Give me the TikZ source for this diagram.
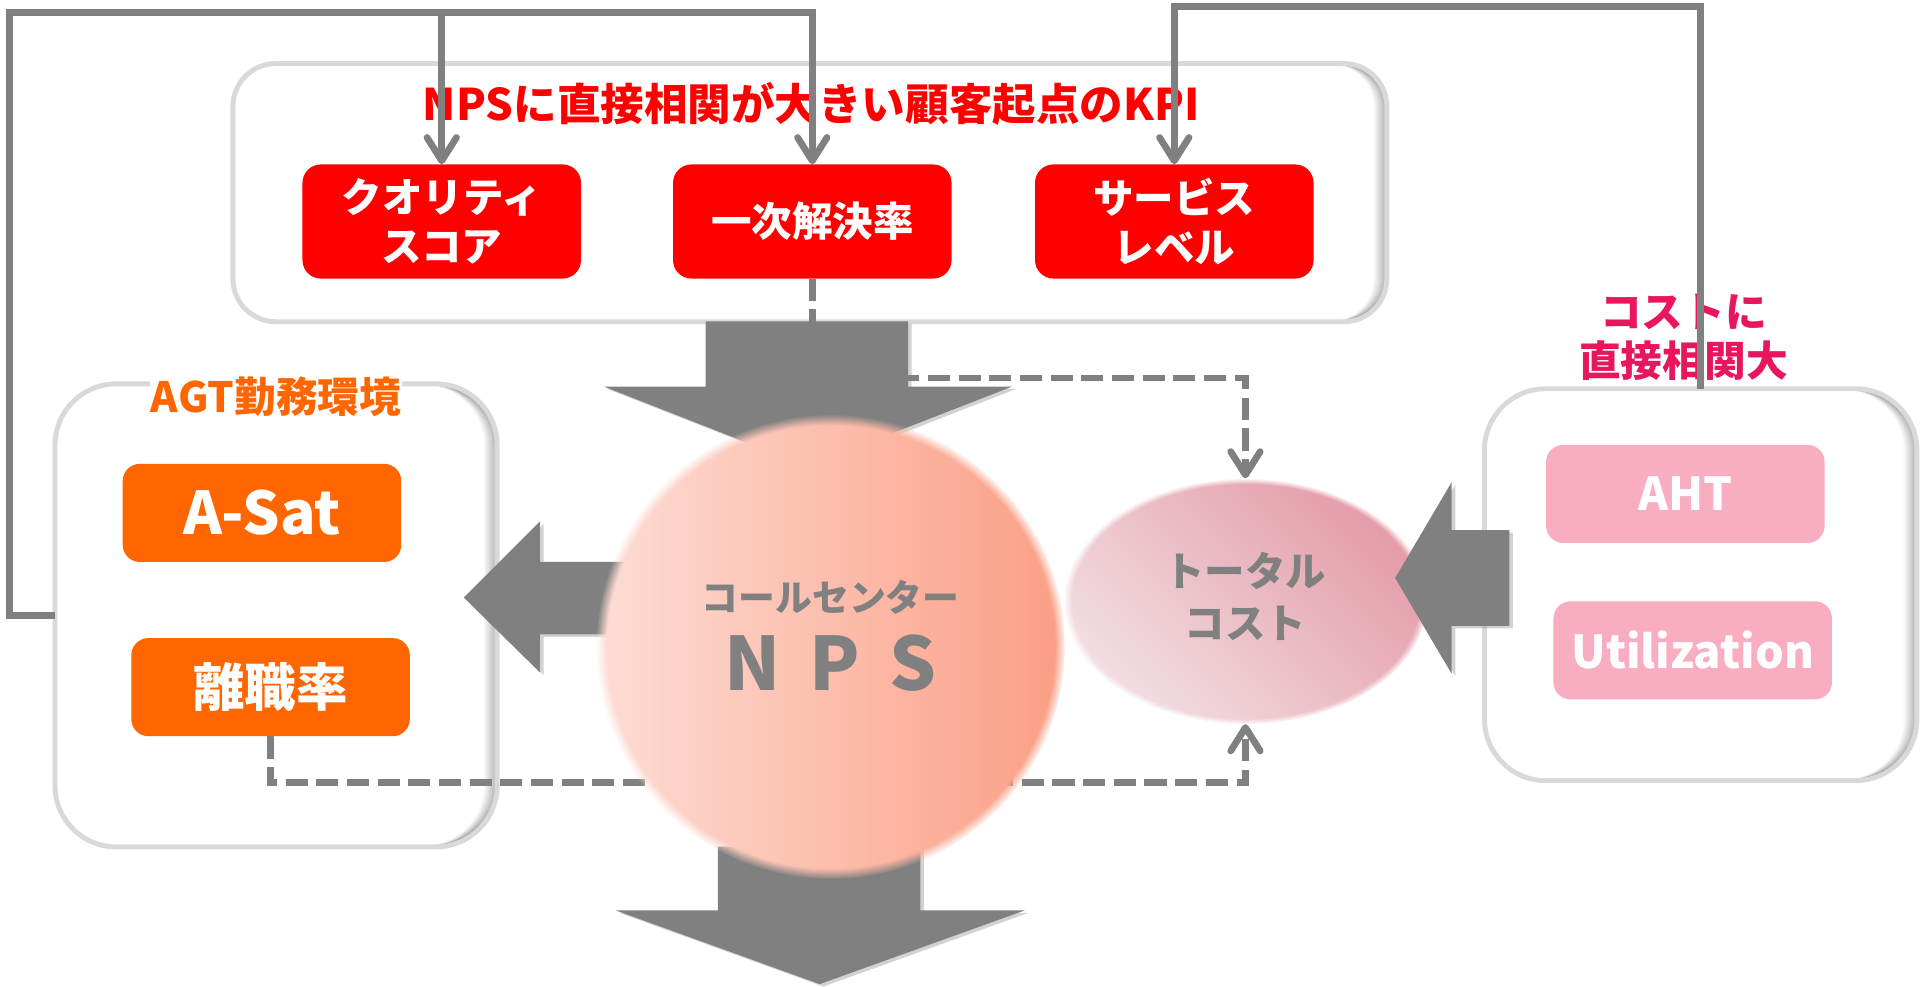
\documentclass[tikz,border=0pt]{standalone}
\usepackage{fontspec}
\setmainfont{Noto Sans CJK JP}
\usetikzlibrary{arrows.meta,fadings,shadows,shapes.geometric,calc}
\definecolor{kred}{HTML}{FF0000}
\definecolor{korange}{HTML}{FF6600}
\definecolor{kpink}{HTML}{F8ADC1}
\definecolor{kcrimson}{HTML}{E8175D}
\definecolor{kgray}{HTML}{808080}
\definecolor{kborder}{HTML}{D9D9D9}
\definecolor{npsL}{HTML}{FDDDD5}
\definecolor{npsR}{HTML}{FB9E84}
\definecolor{tcD}{HTML}{E49CA8}
\definecolor{tcL}{HTML}{F2DEE3}
\pgfdeclareradialshading{kfuzzsh}{\pgfpointorigin}{color(0bp)=(pgftransparent!0); color(23.8bp)=(pgftransparent!0); color(25bp)=(pgftransparent!100); color(50bp)=(pgftransparent!100)}
\pgfdeclarefading{kfuzz}{\pgfuseshading{kfuzzsh}}
\newcommand\fsz[2]{\fontsize{#1}{#2}\selectfont}
\newcommand\ishadow[2]{%
  \begin{scope}
    \clip[rounded corners=#2] (#1.south west) rectangle (#1.north east);
    \foreach \s in {1,...,10}{
      \pgfmathsetmacro\kop{0.15*(11-\s)/10}
      \draw[black, opacity=\kop, line width=2pt, rounded corners=#2]
        ($(#1.south west)+(-\s,0)$) rectangle ($(#1.north east)+(-\s,0)$);
    }
  \end{scope}
  \draw[kborder, line width=4pt, rounded corners=#2] (#1.south west) rectangle (#1.north east);
}
\begin{document}
\begin{tikzpicture}[x=1pt,y=-1pt,
  container/.style={fill=white, rounded corners=#1, inner sep=0pt},
  kpibx/.style={fill=kred, rounded corners=15pt, minimum width=227pt, minimum height=93pt,
    inner sep=0pt, text=white, font=\bfseries\fsz{33}{40}, align=center},
  agtbx/.style={fill=korange, rounded corners=14pt, minimum width=227pt, minimum height=80pt,
    inner sep=0pt, text=white, align=center},
  costbx/.style={fill=kpink, rounded corners=14pt, minimum width=227pt, minimum height=80pt,
    inner sep=0pt, text=white, font=\bfseries\fsz{37}{44}},
  bigarrow/.style={fill=kgray, drop shadow={shadow xshift=3pt, shadow yshift=-2pt, opacity=0.35}},
  dconn/.style={draw=kgray, line width=5.5pt, dash pattern=on 18pt off 7pt,
    -{Straight Barb[length=19pt,width=24pt,round]}},
  sconn/.style={draw=kgray, line width=5.5pt, line join=miter,
    -{Straight Barb[length=19pt,width=24pt,round]}},
  lbl/.style={font=\bfseries\fsz{34}{40}, align=center, inner sep=1pt}
]
\useasboundingbox (0,0) rectangle (1568,804);
\fill[white] (0,0) rectangle (1568,804);

% containers
\node[container=35pt, minimum width=940pt, minimum height=210pt] (kpibox) at (660,157) {};
\ishadow{kpibox}{35pt}
\node[container=50pt, minimum width=360pt, minimum height=377pt] (agtbox) at (225,501.5) {};
\ishadow{agtbox}{50pt}
\node[container=50pt, minimum width=352pt, minimum height=319pt] (costbox) at (1386,476.5) {};
\ishadow{costbox}{50pt}

% KPI boxes
\node[kpibx] (qs) at (360,180.5) {クオリティ\\スコア};
\node[kpibx] (fcr) at (662,180.5) {一次解決率};
\node[kpibx] (sl) at (957,180.5) {サービス\\レベル};

% AGT boxes
\node[agtbx, font=\bfseries\fsz{48}{56}] (asat) at (213.5,418) {A-Sat};
\node[agtbx, font=\bfseries\fsz{42}{50}] (rishoku) at (220.5,560) {離職率};

% cost boxes
\node[costbx] (aht) at (1373.5,402.5) {AHT};
\node[costbx] (util) at (1379.5,530) {Utilization};

% total cost ellipse
\node[ellipse, minimum width=296pt, minimum height=200pt, inner sep=0pt,
  top color=tcD, bottom color=tcL, shading angle=-45,
  path fading=kfuzz] (tc) at (1015,490) {};
\node[text=kgray, font=\bfseries\fsz{33}{42}, align=center] (tct) at (1015,486) {トータル\\コスト};

% dashed connectors
\coordinate (d1) at (662,308);
\coordinate (d2) at (1015,308);
\coordinate (d3) at (220.5,638);
\coordinate (d4) at (1015,638);
\draw[dconn] (fcr.south) -- (d1) -- (d2) -- (tc.north);
\draw[dconn] (rishoku.south) -- (d3) -- (d4) -- (tc.south);

% big arrows
\path[bigarrow] (575,262) -- (740,262) -- (740,315) -- (825,315) -- (658,380) -- (492,315) -- (575,315) -- cycle;
\path[bigarrow] (520,458) -- (440,458) -- (440,425) -- (378,487) -- (440,548) -- (440,517) -- (520,517) -- cycle;
\path[bigarrow] (585,690) -- (750,690) -- (750,742) -- (835,742) -- (668,802) -- (502,742) -- (585,742) -- cycle;

% NPS ellipse
\node[ellipse, minimum width=382pt, minimum height=378pt, inner sep=0pt,
  left color=npsL, right color=npsR,
  path fading=kfuzz] (nps) at (677,527) {};
\node[text=kgray, font=\bfseries\fsz{30}{36}] (npsa) at (677,487) {コールセンター};
\node[text=kgray, font=\bfseries\fsz{60}{70}] (npsb) at (677,540) {N\hspace{0.4em}P\hspace{0.4em}S};

% right arrow
\path[bigarrow] (1230,432) -- (1183,432) -- (1183,393) -- (1137,471) -- (1183,549) -- (1183,510) -- (1230,510) -- cycle;

% labels
\node[lbl, text=kred, font=\bfseries\fsz{35.5}{42}] (title) at (661,85) {NPSに直接相関が大きい顧客起点のKPI};
\node[lbl, text=korange, fill=white] (agtlbl) at (225,323) {AGT勤務環境};
\node[lbl, text=kcrimson] (costlbl) at (1372,275) {コストに\\直接相関大};

% loop connectors
\coordinate (l1) at (8,501.5);
\coordinate (l2) at (8,10);
\coordinate (l3) at (662,10);
\coordinate (l4) at (360,10);
\coordinate (r1) at (1386,5);
\coordinate (r2) at (957,5);
\draw[sconn] (agtbox.west) -- (l1) -- (l2) -- (l3) -- (fcr.north);
\draw[sconn] (l4) -- (qs.north);
\draw[sconn] (costbox.north) -- (r1) -- (r2) -- (sl.north);
\end{tikzpicture}
\end{document}
